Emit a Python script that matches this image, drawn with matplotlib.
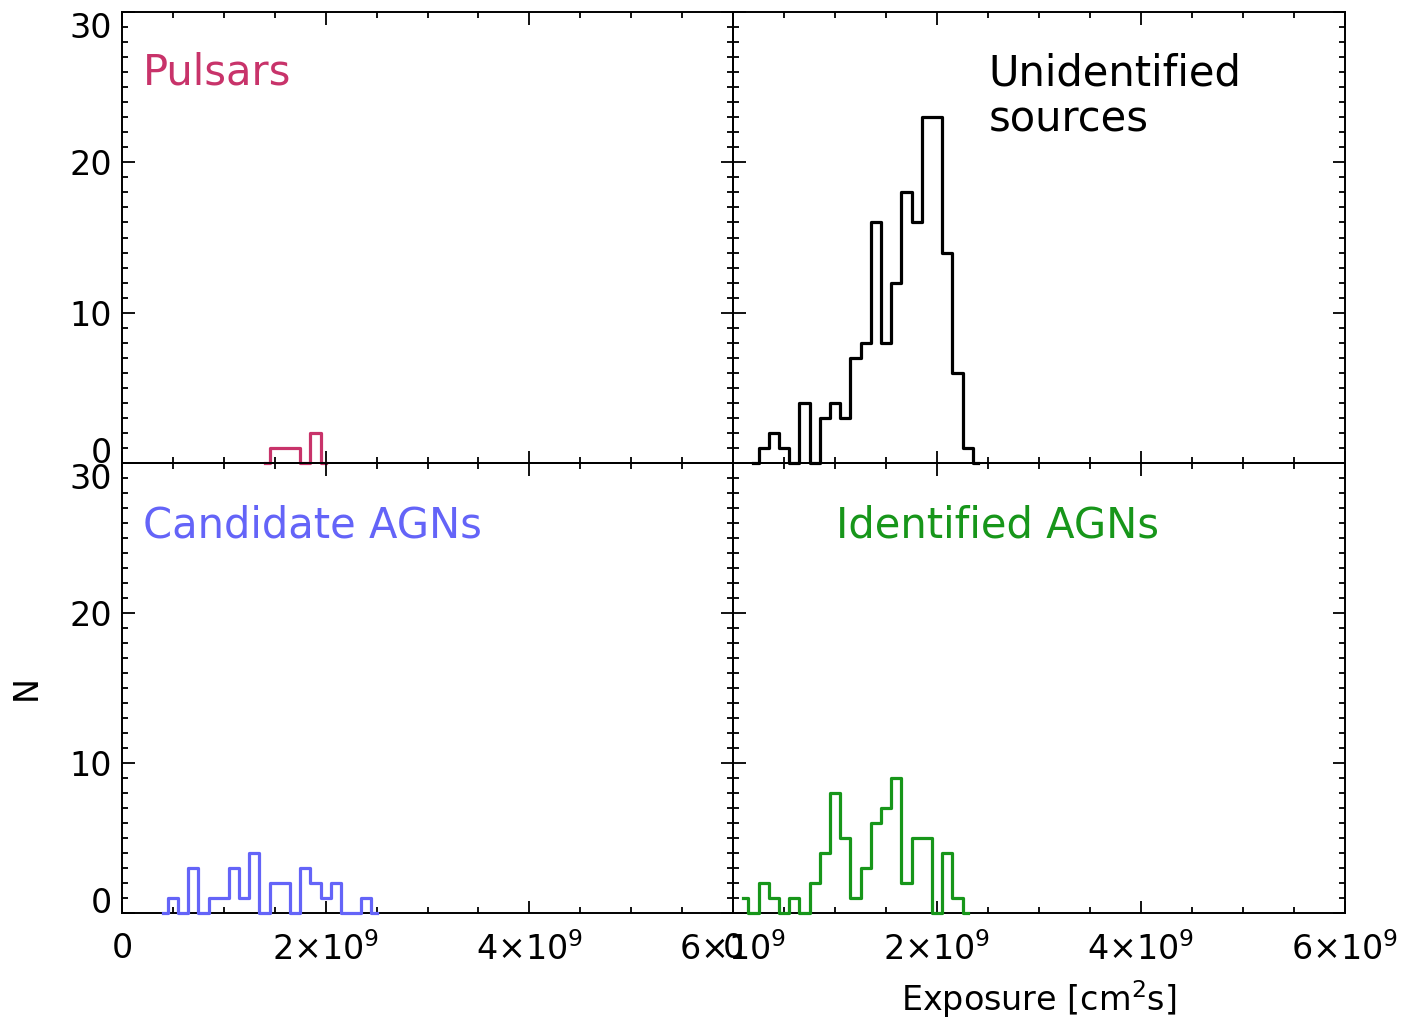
import numpy as np
import matplotlib as mpl
import matplotlib.pyplot as plt
from matplotlib.ticker import MultipleLocator, FixedLocator, FixedFormatter

mpl.rcParams['font.family'] = 'DejaVu Sans'
mpl.rcParams['mathtext.fontset'] = 'dejavusans'

# ===== data: counts per bin, bins of 1e8 cm^2 s, first bin centre given =====
bin_width = 0.1e9

pulsar_first = 1.4e9
pulsar_counts = [0, 1, 1, 1, 0, 2, 0]

unid_first = 0.2e9
unid_counts = [0, 1, 2, 1, 0, 4, 0, 3, 4, 3, 7, 8, 16, 8, 12, 18, 16, 23, 23,
               14, 6, 1, 0]

cand_first = 0.4e9
cand_counts = [0, 1, 0, 3, 0, 1, 1, 3, 1, 4, 0, 2, 2, 0, 3, 2, 1, 2, 0, 0, 1, 0]

ident_first = 0.1e9
ident_counts = [1, 0, 2, 1, 0, 1, 0, 2, 4, 8, 5, 1, 3, 6, 7, 9, 2, 5, 5, 0, 4,
                1, 0]

x_ticks = [0, 2e9, 4e9, 6e9]
x_ticklabels = ['0', '2×10$^{9}$', '4×10$^{9}$', '6×10$^{9}$']
y_ticks = [0, 10, 20, 30]
y_ticklabels = ['0', '10', '20', '30']

# ===== params =====
c_pulsar = '#c8336a'
c_unid = 'black'
c_cand = '#6464f8'
c_ident = '#17961a'
tick_size = 24
label_size = 30
axis_size = 24

W, H = 1401, 1018
fig = plt.figure(figsize=(W / 100, H / 100), dpi=100)


def px_axes(x0, x1, y0, y1):
    # pixel box (from top-left) -> figure fraction axes
    return fig.add_axes([x0 / W, (H - y1) / H, (x1 - x0) / W, (y1 - y0) / H])


ax_tl = px_axes(122, 733, 12, 463)
ax_tr = px_axes(733, 1345, 12, 463)
ax_bl = px_axes(122, 733, 463, 913)
ax_br = px_axes(733, 1345, 463, 913)

panels = [
    (ax_tl, pulsar_first, pulsar_counts, c_pulsar),
    (ax_tr, unid_first, unid_counts, c_unid),
    (ax_bl, cand_first, cand_counts, c_cand),
    (ax_br, ident_first, ident_counts, c_ident),
]

for ax, first, counts, col in panels:
    centres = first + bin_width * np.arange(len(counts))
    ax.step(centres, counts, where='mid', c=col, lw=2.3,
            clip_on=False, zorder=5)
    ax.set_xlim(0, 6e9)
    ax.set_ylim(0, 30)
    ax.xaxis.set_major_locator(FixedLocator(x_ticks))
    ax.xaxis.set_minor_locator(MultipleLocator(0.5e9))
    ax.yaxis.set_major_locator(FixedLocator(y_ticks))
    ax.yaxis.set_minor_locator(MultipleLocator(1))
    ax.tick_params(which='both', direction='in', top=True, right=True,
                   width=1.3, color='black', labelsize=tick_size)
    ax.tick_params(which='major', length=9)
    ax.tick_params(which='minor', length=4.5)
    ax.tick_params(axis='x', pad=14)
    ax.tick_params(axis='y', pad=7)
    for s in ax.spines.values():
        s.set_linewidth(1.4)
    ax.set_facecolor('none')

# tick labels only on the outer sides
for ax in (ax_tl, ax_tr):
    ax.tick_params(axis='x', labelbottom=False)
for ax in (ax_tr, ax_br):
    ax.tick_params(axis='y', labelleft=False)
for ax in (ax_bl, ax_br):
    ax.xaxis.set_major_formatter(FixedFormatter(x_ticklabels))
for ax in (ax_tl, ax_bl):
    ax.yaxis.set_major_formatter(FixedFormatter(y_ticklabels))
    labs = ax.get_yticklabels()
    labs[0].set_va('baseline')
    labs[-1].set_va('top')

# ===== annotations =====
ax_tl.text(0.034, 0.865, 'Pulsars', transform=ax_tl.transAxes,
           c=c_pulsar, size=label_size, va='center', ha='left')
ax_tr.text(0.417, 0.814, 'Unidentified\nsources', transform=ax_tr.transAxes,
           c=c_unid, size=label_size, va='center', ha='left', linespacing=1.1)
ax_bl.text(0.034, 0.862, 'Candidate AGNs', transform=ax_bl.transAxes,
           c=c_cand, size=label_size, va='center', ha='left')
ax_br.text(0.168, 0.862, 'Identified AGNs', transform=ax_br.transAxes,
           c=c_ident, size=label_size, va='center', ha='left')

ax_bl.set_ylabel('N', size=axis_size)
ax_bl.yaxis.set_label_coords(-0.13, 0.5)
ax_br.set_xlabel(r'Exposure [cm$^2$s]', size=axis_size, va='top')
ax_br.xaxis.set_label_coords(0.5, -0.145)

plt.savefig('out.png', dpi=100)
